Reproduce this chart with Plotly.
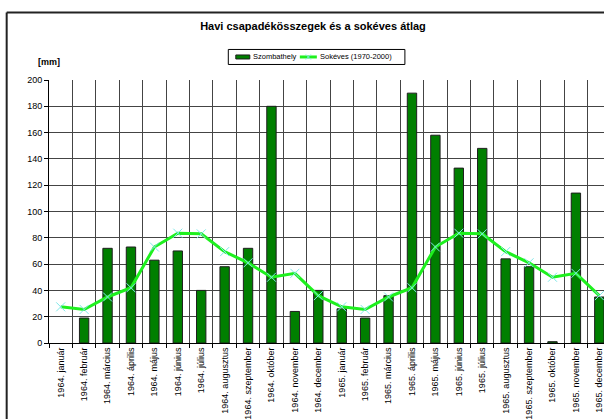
import plotly.graph_objects as go

# Monthly precipitation, Szombathely 1964-1965 [mm]
months = ["január", "február", "március", "április", "május", "június",
          "július", "augusztus", "szeptember", "október", "november", "december"]
years = ["1964", "1965"]
categories = [f"{y}. {m}" for y in years for m in months]

szombathely = [None, 19, 72, 73, 63, 70, 40, 58, 72, 180, 24, 40,
               26, 19, 36, 190, 158, 133, 148, 64, 58, 1, 114, 35]

# Long-term monthly mean (1970-2000), repeated for both years
sokeves_month = [27.5, 25.5, 35, 42, 73, 83.5, 83, 69.5, 61, 50, 53, 36]
sokeves = sokeves_month * 2

series_names = ["Szombathely", "Sokéves (1970-2000)"]

BAR_COLOR = "#007f00"
LINE_COLOR = "#1ef01e"
MARK_COLOR = "#7fe8e8"

W, H = 604, 419
L, T, B = 49.3, 80, 76.3
PW = W - L
PH = H - T - B


def px_x(px):
    return (px - L) / PW


def px_y(py):
    return (H - B - py) / PH


fig = go.Figure()

fig.add_trace(go.Bar(
    x=categories, y=szombathely, name=series_names[0],
    marker=dict(color=BAR_COLOR, line=dict(color="#1e1e1e", width=1)),
    showlegend=False,
))

fig.add_trace(go.Scatter(
    x=categories, y=sokeves, name=series_names[1],
    mode="lines+markers",
    line=dict(color=LINE_COLOR, width=3),
    marker=dict(symbol="x-thin", size=9, color=MARK_COLOR,
                line=dict(color=MARK_COLOR, width=1)),
    showlegend=False,
))

font_family = "Liberation Sans, Arial, sans-serif"

# Boxed legend drawn in pixel-derived paper coordinates
leg_y = 57
legend_shapes = [
    dict(type="rect", xref="paper", yref="paper",
         x0=px_x(228.5), x1=px_x(405), y0=px_y(49.5), y1=px_y(64.5),
         line=dict(color="#000000", width=1), fillcolor="white"),
    dict(type="rect", xref="paper", yref="paper",
         x0=px_x(236), x1=px_x(250), y0=px_y(55), y1=px_y(59),
         line=dict(color="#1e1e1e", width=1), fillcolor=BAR_COLOR),
    dict(type="line", xref="paper", yref="paper",
         x0=px_x(300), x1=px_x(317), y0=px_y(leg_y), y1=px_y(leg_y),
         line=dict(color=LINE_COLOR, width=3)),
    dict(type="line", xref="paper", yref="paper",
         x0=px_x(306), x1=px_x(311), y0=px_y(leg_y - 2.5), y1=px_y(leg_y + 2.5),
         line=dict(color=MARK_COLOR, width=1)),
    dict(type="line", xref="paper", yref="paper",
         x0=px_x(306), x1=px_x(311), y0=px_y(leg_y + 2.5), y1=px_y(leg_y - 2.5),
         line=dict(color=MARK_COLOR, width=1)),
]
legend_labels = [
    dict(text=series_names[0], x=px_x(251), y=px_y(leg_y),
         xref="paper", yref="paper", xanchor="left", yanchor="middle",
         showarrow=False, font=dict(size=7.5, family=font_family)),
    dict(text=series_names[1], x=px_x(318), y=px_y(leg_y),
         xref="paper", yref="paper", xanchor="left", yanchor="middle",
         showarrow=False, font=dict(size=7.5, family=font_family)),
]

fig.update_layout(
    width=W, height=H,
    margin=dict(l=L, r=0, t=T, b=B),
    paper_bgcolor="white", plot_bgcolor="white",
    font=dict(family=font_family, color="#000000", size=9),
    bargap=0.6,
    showlegend=False,
    title=dict(
        text="<b>Havi csapadékösszegek és a sokéves átlag</b>",
        font=dict(size=11, family=font_family, color="#000000"),
        x=313 / W, xref="container", xanchor="center",
        y=1 - 26 / H, yref="container", yanchor="middle",
    ),
    xaxis=dict(
        type="category",
        range=[-0.5, 23.2],
        tickson="boundaries",
        showgrid=True, gridcolor="#444444", gridwidth=1,
        ticks="outside", ticklen=4, tickcolor="#000000",
        showline=True, linecolor="#000000", linewidth=1,
        tickangle=-90,
        tickfont=dict(size=9, family=font_family),
    ),
    yaxis=dict(
        range=[0, 200], tickvals=list(range(0, 201, 20)),
        showgrid=True, gridcolor="#444444", gridwidth=1,
        ticks="outside", ticklen=4, tickcolor="#000000",
        showline=True, linecolor="#000000", linewidth=1,
        tickfont=dict(size=9, family=font_family),
        zeroline=False,
    ),
    annotations=[dict(
        text="<b>[mm]</b>", x=px_x(49), y=px_y(62),
        xref="paper", yref="paper", xanchor="center", yanchor="middle",
        showarrow=False, font=dict(size=9, family=font_family),
    )] + legend_labels,
    shapes=[
        # chart-area frame (left and top edges)
        dict(type="line", xref="paper", yref="paper",
             x0=px_x(7), x1=px_x(7), y0=px_y(430), y1=px_y(12.5),
             line=dict(color="#222222", width=2)),
        dict(type="line", xref="paper", yref="paper",
             x0=px_x(7), x1=px_x(620), y0=px_y(12.5), y1=px_y(12.5),
             line=dict(color="#222222", width=2)),
    ] + legend_shapes,
)

fig.write_html("out.html")
